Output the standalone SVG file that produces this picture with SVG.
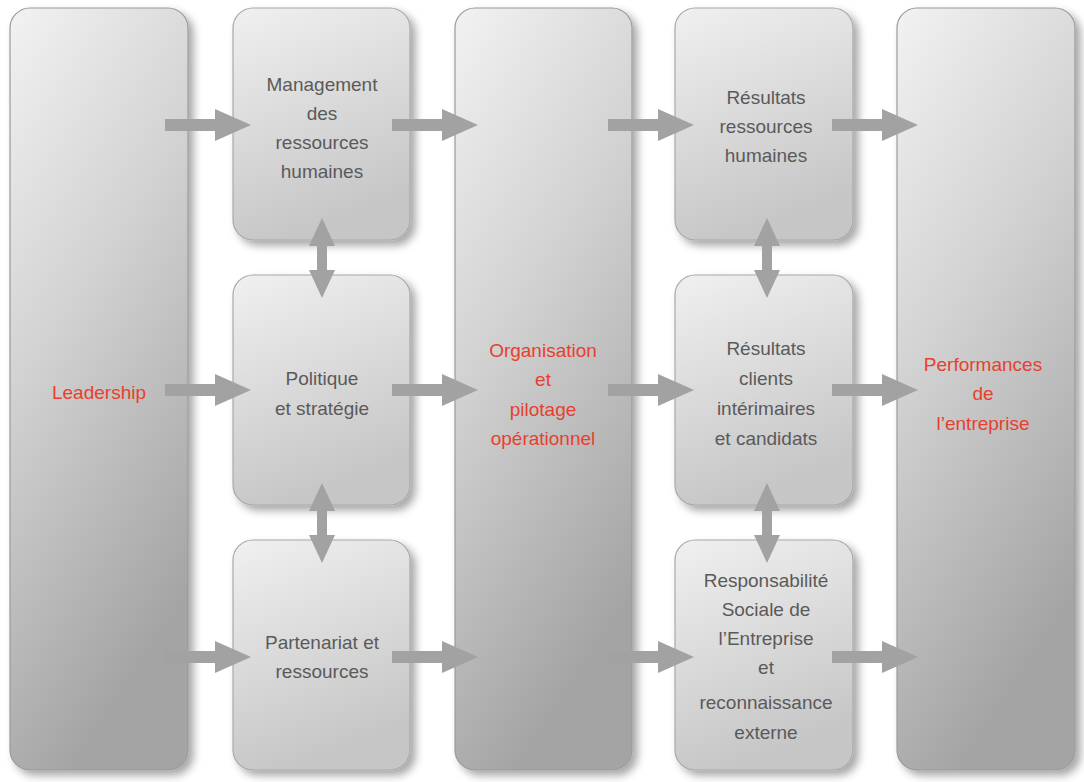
<svg xmlns="http://www.w3.org/2000/svg" width="1084" height="782" viewBox="0 0 1084 782">
<defs>
<linearGradient id="gTall" x1="0" y1="0" x2="0.35" y2="1">
<stop offset="0" stop-color="#f2f2f2"/>
<stop offset="0.45" stop-color="#d2d2d2"/>
<stop offset="1" stop-color="#a4a4a4"/>
</linearGradient>
<linearGradient id="gBox" x1="0" y1="0" x2="0.3" y2="1">
<stop offset="0" stop-color="#f0f0f0"/>
<stop offset="1" stop-color="#c6c6c6"/>
</linearGradient>
<filter id="sh" x="-20%" y="-20%" width="140%" height="140%">
<feDropShadow dx="5" dy="5" stdDeviation="4" flood-color="#000" flood-opacity="0.35"/>
</filter>
<path id="harrow" d="M0,-6 L50,-6 L50,-16 L86,0 L50,16 L50,6 L0,6 Z"/>
<path id="varrow" d="M0,-40 L13,-12 L5,-12 L5,12 L13,12 L0,40 L-13,12 L-5,12 L-5,-12 L-13,-12 Z"/>
</defs>
<style>
.tall{fill:url(#gTall);stroke:#9a9a9a;stroke-width:1.2;filter:url(#sh)}
.box{fill:url(#gBox);stroke:#a8a8a8;stroke-width:1.2;filter:url(#sh)}
.t{font-family:"Liberation Sans",Arial,sans-serif;font-size:19px;fill:#5a5a5a;text-anchor:middle}
.r{font-family:"Liberation Sans",Arial,sans-serif;font-size:19px;fill:#e8402f;text-anchor:middle}
.arr{fill:#a2a2a2}
</style>
<rect width="1084" height="782" fill="#ffffff"/>

<g id="leadership">
<rect class="tall" x="10" y="8" width="178" height="762" rx="20"/>
<text class="r" x="99" y="399">Leadership</text>
</g>

<g id="management-rh">
<rect class="box" x="233" y="8" width="177" height="232" rx="20"/>
<text class="t" x="322" y="91">Management</text>
<text class="t" x="322" y="120">des</text>
<text class="t" x="322" y="149">ressources</text>
<text class="t" x="322" y="178">humaines</text>
</g>

<g id="politique-strategie">
<rect class="box" x="233" y="275" width="177" height="230" rx="20"/>
<text class="t" x="322" y="385">Politique</text>
<text class="t" x="322" y="415">et stratégie</text>
</g>

<g id="partenariat-ressources">
<rect class="box" x="233" y="540" width="177" height="230" rx="20"/>
<text class="t" x="322" y="649">Partenariat et</text>
<text class="t" x="322" y="678">ressources</text>
</g>

<g id="organisation">
<rect class="tall" x="455" y="8" width="177" height="762" rx="20"/>
<text class="r" x="543" y="357">Organisation</text>
<text class="r" x="543" y="386">et</text>
<text class="r" x="543" y="416">pilotage</text>
<text class="r" x="543" y="445">opérationnel</text>
</g>

<g id="resultats-rh">
<rect class="box" x="675" y="8" width="178" height="232" rx="20"/>
<text class="t" x="766" y="104">Résultats</text>
<text class="t" x="766" y="133">ressources</text>
<text class="t" x="766" y="162">humaines</text>
</g>

<g id="resultats-clients">
<rect class="box" x="675" y="275" width="178" height="230" rx="20"/>
<text class="t" x="766" y="355">Résultats</text>
<text class="t" x="766" y="385">clients</text>
<text class="t" x="766" y="415">intérimaires</text>
<text class="t" x="766" y="445">et candidats</text>
</g>

<g id="rse">
<rect class="box" x="675" y="540" width="178" height="230" rx="20"/>
<text class="t" x="766" y="587">Responsabilité</text>
<text class="t" x="766" y="616">Sociale de</text>
<text class="t" x="766" y="645">l’Entreprise</text>
<text class="t" x="766" y="674">et</text>
<text class="t" x="766" y="709">reconnaissance</text>
<text class="t" x="766" y="739">externe</text>
</g>

<g id="performances">
<rect class="tall" x="897" y="8" width="178" height="762" rx="20"/>
<text class="r" x="983" y="371">Performances</text>
<text class="r" x="983" y="400">de</text>
<text class="r" x="983" y="430">l’entreprise</text>
</g>

<g id="connectors" class="arr">
<use href="#harrow" x="165" y="125"/>
<use href="#harrow" x="392" y="125"/>
<use href="#harrow" x="608" y="125"/>
<use href="#harrow" x="832" y="125"/>
<use href="#harrow" x="165" y="390"/>
<use href="#harrow" x="392" y="390"/>
<use href="#harrow" x="608" y="390"/>
<use href="#harrow" x="832" y="390"/>
<use href="#harrow" x="165" y="657"/>
<use href="#harrow" x="392" y="657"/>
<use href="#harrow" x="608" y="657"/>
<use href="#harrow" x="832" y="657"/>
<use href="#varrow" x="322" y="258"/>
<use href="#varrow" x="322" y="523"/>
<use href="#varrow" x="767" y="258"/>
<use href="#varrow" x="767" y="523"/>
</g>
</svg>
